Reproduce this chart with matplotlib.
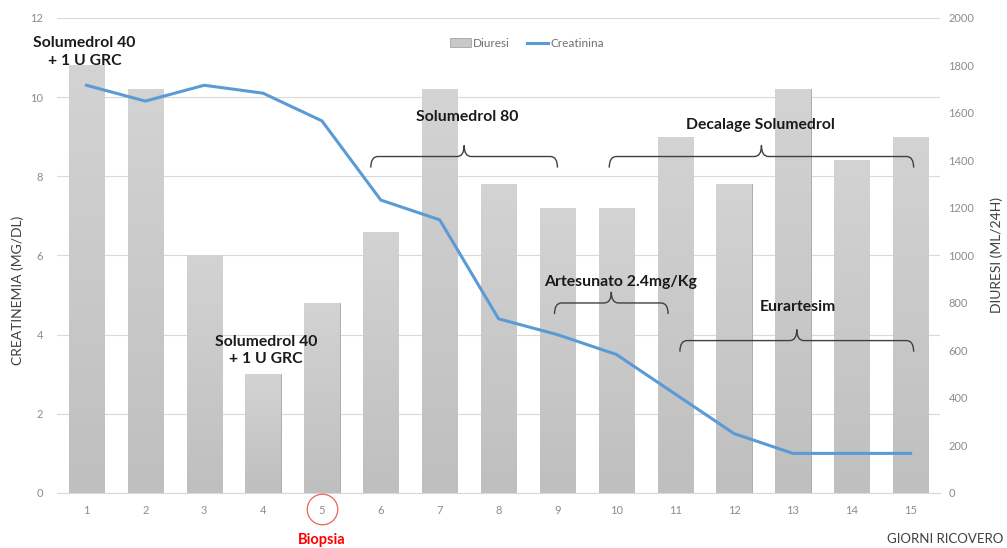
import numpy as np
import matplotlib.pyplot as plt
from matplotlib.path import Path
from matplotlib.patches import PathPatch
from matplotlib.colors import LinearSegmentedColormap
from matplotlib.transforms import blended_transform_factory

plt.rcParams['font.family'] = ['Lato', 'DejaVu Sans']

# dati ricovero
giorni = [1, 2, 3, 4, 5, 6, 7, 8, 9, 10, 11, 12, 13, 14, 15]
diuresi = [1800, 1700, 1000, 500, 800, 1100, 1700, 1300, 1200, 1200, 1500, 1300, 1700, 1400, 1500]
creatinina = [10.3, 9.9, 10.3, 10.1, 9.4, 7.4, 6.9, 4.4, 4.0, 3.5, 2.5, 1.5, 1.0, 1.0, 1.0]

# terapie: (testo, x, y) e parentesi graffe (x inizio, x fine, y)
note = [
    ("Solumedrol 40\n+ 1 U GRC", 0.97, 11.15),
    ("Solumedrol 40\n+ 1 U GRC", 4.05, 3.6),
    ("Solumedrol 80", 7.47, 9.5),
    ("Decalage Solumedrol", 12.44, 9.3),
    ("Artesunato 2.4mg/Kg", 10.07, 5.33),
    ("Eurartesim", 13.08, 4.7),
]
graffe = [
    (5.83, 9.0, 8.5),
    (9.88, 15.05, 8.5),
    (8.95, 10.88, 4.8),
    (11.08, 15.05, 3.85),
]

GRIGIO = '#8C8C8C'
BLU = '#5B9BD5'
SCURO = '#404040'

fig = plt.figure(figsize=(10.07, 5.48), dpi=100)
ax = fig.add_axes([0.0566, 0.1004, 0.877, 0.8668])
ax2 = ax.twinx()

ax.set_xlim(0.5, 15.5)
ax.set_ylim(0, 12)
ax.set_yticks(np.arange(0, 13, 2))
ax2.set_yticks(np.arange(0, 2001, 200))
ax.set_xticks(giorni)
ax.grid(axis='y', color='#D9D9D9', lw=0.8)
ax.set_axisbelow(True)

for a in (ax, ax2):
    for s in a.spines.values():
        s.set_visible(False)
    a.tick_params(length=0, labelsize=8, labelcolor=GRIGIO)
ax.spines['bottom'].set_visible(True)
ax.spines['bottom'].set_color('#D9D9D9')
ax.tick_params(axis='x', pad=9)
ax.tick_params(axis='y', pad=10)
ax2.tick_params(axis='y', pad=6)

# barre con sfumatura
barre = ax2.bar(giorni, diuresi, width=0.6, color='#C8C8C8', edgecolor='#ADADAD',
                lw=0.7, label='Diuresi', zorder=1)
cmap = LinearSegmentedColormap.from_list('grigi', ['#BFBFBF', '#D3D3D3'])
grad = np.linspace(0, 1, 100).reshape(-1, 1)
for b in barre:
    x0, w, h = b.get_x(), b.get_width(), b.get_height()
    im = ax2.imshow(grad, cmap=cmap, origin='lower', aspect='auto',
                    extent=(x0, x0 + w, 0, h), zorder=1)
    im.set_clip_path(b)
ax2.set_xlim(0.5, 15.5)
ax2.set_ylim(0, 2000)

ax2.plot(giorni, creatinina, color=BLU, lw=2.2, label='Creatinina',
         transform=ax.transData, zorder=3)


def graffa(a, x0, x1, y, d=0.28, r=0.12):
    xm = (x0 + x1) / 2
    verts = [(x0, y - d), (x0, y), (x0 + r, y),
             (xm - r, y), (xm, y), (xm, y + d),
             (xm, y), (xm + r, y),
             (x1 - r, y), (x1, y), (x1, y - d)]
    codes = [Path.MOVETO, Path.CURVE3, Path.CURVE3,
             Path.LINETO, Path.CURVE3, Path.CURVE3,
             Path.CURVE3, Path.CURVE3,
             Path.LINETO, Path.CURVE3, Path.CURVE3]
    a.add_patch(PathPatch(Path(verts, codes), fill=False, ec=SCURO, lw=1.0,
                          transform=ax.transData, zorder=4))


for x0, x1, y in graffe:
    graffa(ax2, x0, x1, y)

for testo, x, y in note:
    ax2.text(x, y, testo, transform=ax.transData, ha='center', va='center',
             fontsize=11.3, fontweight='bold', color='#1A1A1A', zorder=5,
             linespacing=1.35)

# biopsia al giorno 5
tr = blended_transform_factory(ax.transData, ax.transAxes)
ax2.plot([5], [-0.034], transform=tr, marker='o', ms=22, mfc='none', mec='#F06060',
         mew=0.9, clip_on=False)
ax2.text(5, -0.1, 'Biopsia', transform=tr, ha='center', va='center',
         color='#FF0000', fontsize=10.5, fontweight='bold')

fig.text(0.018, 0.471, 'CREATINEMIA (MG/DL)', rotation=90, fontsize=10,
         color=SCURO, ha='center', va='center')
fig.text(0.99, 0.535, 'DIURESI (ML/24H)', rotation=90, fontsize=10,
         color=SCURO, ha='center', va='center')
fig.text(0.996, 0.016, 'GIORNI RICOVERO', fontsize=9.5, color=SCURO,
         ha='right', va='center')

h2, l2 = ax2.get_legend_handles_labels()
ax2.legend(h2[::-1], l2[::-1], loc='center', bbox_to_anchor=(0.532, 0.947), ncol=2,
           frameon=False, fontsize=8.5, labelcolor='#707070', handlelength=1.8,
           columnspacing=1.4, handletextpad=0.2)

fig.savefig('out.png', dpi=100)
